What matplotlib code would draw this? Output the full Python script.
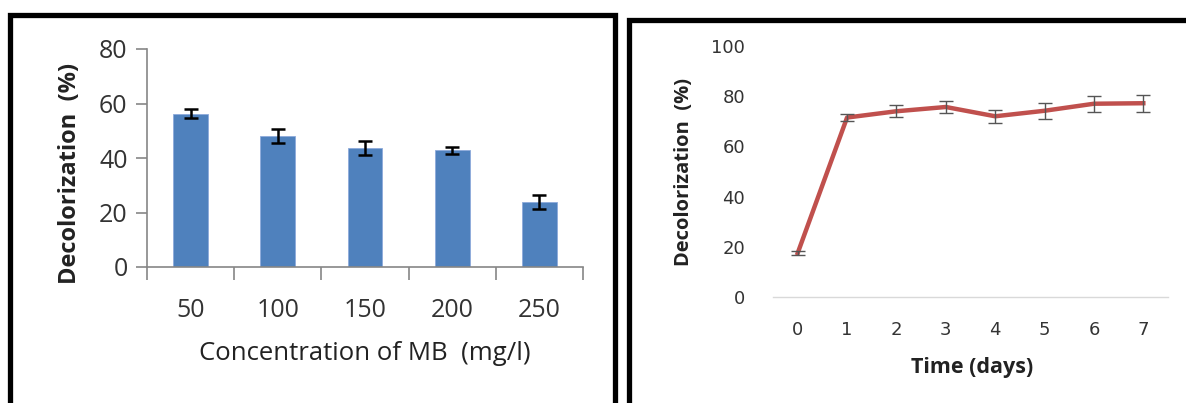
import numpy as np
import matplotlib.pyplot as plt
from matplotlib.lines import Line2D

# left panel: decolorization vs dye concentration
concentrations = ["50", "100", "150", "200", "250"]
decol_conc = [56.2, 48.0, 43.8, 42.9, 23.8]
err_conc = [1.6, 2.6, 2.6, 1.3, 2.6]

# right panel: decolorization vs time
days = [0, 1, 2, 3, 4, 5, 6, 7]
decol_time = [17.5, 71.5, 74.0, 75.7, 72.0, 74.2, 77.0, 77.2]
err_time = [0.8, 1.3, 2.3, 2.5, 2.7, 3.1, 3.2, 3.3]

fig = plt.figure(figsize=(11.86, 4.03), dpi=100)
W, H = 1186, 403

def px(x0, y0, x1, y1):
    return [x0 / W, 1 - y1 / H, (x1 - x0) / W, (y1 - y0) / H]

# ---- left chart ----
ax1 = fig.add_axes(px(147, 49, 583, 267))
pos = np.arange(len(concentrations))
ax1.bar(pos, decol_conc, width=0.4, color="#4F81BD", edgecolor="#8EAADB", linewidth=0.6, zorder=2)
ax1.errorbar(pos, decol_conc, yerr=err_conc, fmt="none", ecolor="black",
             elinewidth=1.8, capsize=5, capthick=1.8, zorder=3)
ax1.set_xlim(-0.5, len(concentrations) - 0.5)
ax1.set_ylim(0, 80)
ax1.set_yticks([0, 20, 40, 60, 80])
ax1.set_xticks(pos)
ax1.set_xticklabels(concentrations)
ax1.set_xticks(np.arange(-0.5, len(concentrations)), minor=True)
ax1.tick_params(axis="x", which="major", length=0, pad=22)
ax1.tick_params(axis="x", which="minor", length=9, width=1.2, color="#868686", direction="out")
ax1.tick_params(axis="y", length=8, width=1.2, color="#868686", pad=6)
for lab in ax1.get_xticklabels() + ax1.get_yticklabels():
    lab.set_fontsize(18)
    lab.set_color("#333333")
    lab.set_family("Open Sans")
for s in ["top", "right"]:
    ax1.spines[s].set_visible(False)
for s in ["left", "bottom"]:
    ax1.spines[s].set_color("#868686")
    ax1.spines[s].set_linewidth(1.2)

fig.text(70 / W, 1 - 173 / H, "Decolorization  (%)", rotation=90, ha="center", va="center",
         fontsize=17, fontweight="bold", family="Open Sans", color="#222222")
fig.text(365 / W, 1 - 353 / H, "Concentration of MB  (mg/l)", ha="center", va="center",
         fontsize=18.5, family="Open Sans", color="#222222")

# ---- right chart ----
ax2 = fig.add_axes(px(773, 46, 1168, 297))
ax2.plot(days, decol_time, color="#C0504D", linewidth=3.2, zorder=2)
ax2.errorbar(days, decol_time, yerr=err_time, fmt="none", ecolor="#555555",
             elinewidth=1.0, capsize=5, capthick=1.0, zorder=3)
ax2.set_xlim(-0.5, 7.5)
ax2.set_ylim(0, 100)
ax2.set_yticks([0, 20, 40, 60, 80, 100])
ax2.set_xticks(days)
ax2.tick_params(axis="both", length=0, labelsize=13, colors="#333333")
ax2.tick_params(axis="y", pad=20)
ax2.tick_params(axis="x", pad=17)
for lab in ax2.get_xticklabels() + ax2.get_yticklabels():
    lab.set_family("DejaVu Sans")
for s in ["top", "right", "left"]:
    ax2.spines[s].set_visible(False)
ax2.spines["bottom"].set_color("#D9D9D9")
ax2.spines["bottom"].set_linewidth(1.0)

fig.text(684 / W, 1 - 172 / H, "Decolorization  (%)", rotation=90, ha="center", va="center",
         fontsize=14.5, fontweight="bold", family="Open Sans", color="#222222")
fig.text(972 / W, 1 - 368 / H, "Time (days)", ha="center", va="center",
         fontsize=15.5, fontweight="bold", family="Open Sans", color="#222222")

# ---- panel frames ----
lw = 3.8
def frame(xs, ys):
    fig.add_artist(Line2D(np.array(xs) / W, 1 - np.array(ys) / H, color="black",
                          linewidth=lw, solid_joinstyle="miter", transform=fig.transFigure))

frame([9.5, 9.5, 615.5, 615.5], [410, 14.5, 14.5, 410])
frame([629, 629, 1200], [410, 19.5, 19.5])

fig.savefig("out.png", dpi=100)
